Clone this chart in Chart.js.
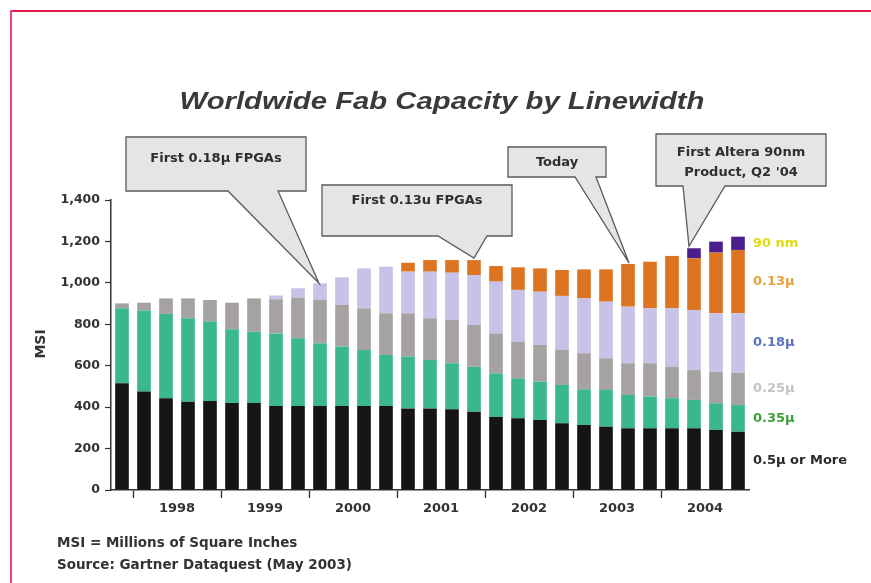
<!DOCTYPE html>
<html>
<head>
<meta charset="utf-8">
<script src="https://cdn.jsdelivr.net/npm/chart.js@4"></script>
<style>
  html, body { margin: 0; padding: 0; background: #fff; }
  canvas { display: block; }
</style>
</head>
<body>
<canvas id="fabChart" width="871" height="583"></canvas>
<script>
// Quarters from Q4 1997 to Q4 2004
const quarters = [
    'Q4 1997',
    'Q1 1998', 'Q2 1998', 'Q3 1998', 'Q4 1998',
    'Q1 1999', 'Q2 1999', 'Q3 1999', 'Q4 1999',
    'Q1 2000', 'Q2 2000', 'Q3 2000', 'Q4 2000',
    'Q1 2001', 'Q2 2001', 'Q3 2001', 'Q4 2001',
    'Q1 2002', 'Q2 2002', 'Q3 2002', 'Q4 2002',
    'Q1 2003', 'Q2 2003', 'Q3 2003', 'Q4 2003',
    'Q1 2004', 'Q2 2004', 'Q3 2004', 'Q4 2004'
];
const years = ['1998', '1999', '2000', '2001', '2002', '2003', '2004'];
const yTicks = [0, 200, 400, 600, 800, 1000, 1200, 1400];

// MSI per linewidth, bottom of the stack first
const msi05 = [515, 475, 443, 426, 430, 420, 420, 405, 405, 405, 405, 405, 405, 394, 394, 390, 378, 354, 346, 338, 322, 314, 306, 298, 298, 298, 298, 290, 281];
const msi035 = [363, 391, 407, 403, 383, 356, 344, 351, 327, 303, 287, 271, 247, 250, 234, 222, 217, 209, 193, 185, 185, 172, 177, 161, 153, 145, 137, 129, 129];
const msi025 = [23, 38, 75, 96, 104, 128, 161, 165, 197, 209, 201, 201, 201, 209, 201, 209, 202, 193, 177, 177, 169, 174, 153, 153, 161, 152, 144, 152, 156];
const msi018 = [0, 0, 0, 0, 0, 0, 0, 18, 45, 81, 134, 193, 225, 201, 225, 228, 241, 250, 250, 257, 261, 265, 273, 273, 265, 282, 290, 282, 287];
const msi013 = [0, 0, 0, 0, 0, 0, 0, 0, 0, 0, 0, 0, 0, 43, 56, 61, 72, 75, 109, 113, 125, 140, 156, 206, 225, 253, 250, 293, 306];
const msi90 = [0, 0, 0, 0, 0, 0, 0, 0, 0, 0, 0, 0, 0, 0, 0, 0, 0, 0, 0, 0, 0, 0, 0, 0, 0, 0, 48, 53, 64];

const seriesLabels = ['0.5\u03bc or More', '0.35\u03bc', '0.25\u03bc', '0.18\u03bc', '0.13\u03bc', '90 nm'];
const seriesData = [msi05, msi035, msi025, msi018, msi013, msi90];
const barColors = ['#151515', '#3ab78d', '#a7a2a2', '#c6c2e8', '#dc7421', '#4b1e8e'];
const labelColors = ['#2a2a2a', '#3f9f3a', '#c4c4c4', '#5b73bf', '#e6a23a', '#e2da10'];

// Callout boxes: text, target bar and box geometry
const callouts = [
    { lines: ['First 0.18\u03bc FPGAs'], bar: 9, box: [126, 137, 306, 191], base: [228, 278], textY: [162], tip: [-1, 0] },
    { lines: ['First 0.13u FPGAs'], bar: 16, box: [322, 185, 512, 236], base: [438, 487], textY: [204], tip: [0, -2] },
    { lines: ['Today'], bar: 23, box: [508, 147, 606, 177], base: [575, 596], textY: [166], tip: [1, -1] },
    { lines: ['First Altera 90nm', 'Product, Q2 \'04'], bar: 26, box: [656, 134, 826, 186], base: [683, 725], textY: [156, 176], tip: [-5, -2] }
];

const smallFont = '"DejaVu Sans", sans-serif';

const decorPlugin = {
    id: 'decor',
    beforeDraw(chart) {
        const ctx = chart.ctx;
        ctx.save();
        ctx.fillStyle = '#ffffff';
        ctx.fillRect(0, 0, chart.width, chart.height);
        // Page frame
        ctx.fillStyle = '#e8194f';
        ctx.fillRect(10, 10, chart.width - 10, 2);
        ctx.fillStyle = '#e4486f';
        ctx.fillRect(10, 10, 2, chart.height - 10);
        ctx.restore();
    },
    afterDraw(chart) {
        const ctx = chart.ctx;
        const xs = chart.scales.x;
        const ys = chart.scales.y;
        ctx.save();

        // Title, stretched like the scanned original
        ctx.save();
        ctx.translate(442, 109);
        ctx.scale(1.22, 1);
        ctx.font = 'italic bold 24px "Liberation Sans", Arial, sans-serif';
        ctx.fillStyle = '#3a3a3a';
        ctx.textAlign = 'center';
        ctx.textBaseline = 'alphabetic';
        ctx.fillText('Worldwide Fab Capacity by Linewidth', 0, 0);
        ctx.restore();

        // Y axis title
        ctx.save();
        ctx.translate(45, 344);
        ctx.rotate(-Math.PI / 2);
        ctx.font = 'bold 14px ' + smallFont;
        ctx.fillStyle = '#333';
        ctx.textAlign = 'center';
        ctx.textBaseline = 'alphabetic';
        ctx.fillText('MSI', 0, 0);
        ctx.restore();

        // Series labels next to the last bar
        const last = quarters.length - 1;
        let cum = 0;
        ctx.font = 'bold 13px ' + smallFont;
        ctx.textAlign = 'left';
        ctx.textBaseline = 'middle';
        seriesData.forEach((arr, i) => {
            const mid = cum + arr[last] / 2;
            cum += arr[last];
            ctx.fillStyle = labelColors[i];
            ctx.fillText(seriesLabels[i], 753, ys.getPixelForValue(mid));
        });

        // Callouts pointing at bar tops
        callouts.forEach(c => {
            const total = seriesData.reduce((s, arr) => s + arr[c.bar], 0);
            const tipX = xs.getPixelForValue(c.bar) + c.tip[0];
            const tipY = ys.getPixelForValue(total) + c.tip[1];
            const [l, t, r, b] = c.box;
            ctx.beginPath();
            ctx.moveTo(l, t);
            ctx.lineTo(r, t);
            ctx.lineTo(r, b);
            ctx.lineTo(c.base[1], b);
            ctx.lineTo(tipX, tipY);
            ctx.lineTo(c.base[0], b);
            ctx.lineTo(l, b);
            ctx.closePath();
            ctx.fillStyle = '#e5e5e5';
            ctx.fill();
            ctx.lineWidth = 1.3;
            ctx.strokeStyle = '#5a5a5a';
            ctx.stroke();
            ctx.fillStyle = '#2e2e2e';
            ctx.font = 'bold 13px ' + smallFont;
            ctx.textAlign = 'center';
            ctx.textBaseline = 'alphabetic';
            c.lines.forEach((line, j) => {
                ctx.fillText(line, (l + r) / 2, c.textY[j]);
            });
        });

        // Footnotes
        ctx.fillStyle = '#333';
        ctx.font = 'bold 13.5px ' + smallFont;
        ctx.textAlign = 'left';
        ctx.textBaseline = 'alphabetic';
        ctx.fillText('MSI = Millions of Square Inches', 57, 547);
        ctx.fillText('Source: Gartner Dataquest (May 2003)', 57, 569);
        ctx.restore();
    }
};

// Year label sits on the Q2 bar and is shifted half a bar right
const isQ2 = (i) => quarters[i] && quarters[i].startsWith('Q2') && years.includes(quarters[i].slice(3));
const isQ1 = (i) => quarters[i] && quarters[i].startsWith('Q1');

const ctx = document.getElementById('fabChart').getContext('2d');
new Chart(ctx, {
    type: 'bar',
    data: {
        labels: quarters,
        datasets: seriesData.map((arr, i) => ({
            label: seriesLabels[i],
            data: arr,
            backgroundColor: barColors[i],
            borderWidth: 0,
            barPercentage: 0.62,
            categoryPercentage: 1.0
        }))
    },
    options: {
        responsive: false,
        devicePixelRatio: 1,
        animation: false,
        layout: { padding: { left: 0, top: 200, right: 122, bottom: 0 } },
        plugins: {
            legend: { display: false },
            tooltip: { enabled: false }
        },
        scales: {
            x: {
                stacked: true,
                offset: true,
                afterFit: (scale) => { scale.height = 93; },
                ticks: {
                    autoSkip: false,
                    maxRotation: 0,
                    padding: 3,
                    labelOffset: 11,
                    color: '#333',
                    font: { family: smallFont, weight: 'bold', size: 13 },
                    callback: (v, i) => isQ2(i) ? quarters[i].slice(3) : ''
                },
                grid: {
                    offset: true,
                    drawOnChartArea: false,
                    tickLength: 8,
                    tickWidth: 1.3,
                    tickColor: (c) => isQ1(c.index) ? '#333' : 'rgba(0,0,0,0)'
                },
                border: { display: true, color: '#333', width: 1.5 }
            },
            y: {
                stacked: true,
                min: 0,
                max: 1400,
                afterBuildTicks: (axis) => { axis.ticks = yTicks.map(v => ({ value: v })); },
                afterFit: (scale) => { scale.width = 111; },
                ticks: {
                    padding: 5,
                    color: '#333',
                    font: { family: smallFont, weight: 'bold', size: 12.5 },
                    callback: (v) => Number(v).toLocaleString('en-US')
                },
                grid: {
                    drawOnChartArea: false,
                    tickLength: 6,
                    tickWidth: 1.2,
                    tickColor: '#333'
                },
                border: { display: true, color: '#333', width: 1.5 }
            }
        }
    },
    plugins: [decorPlugin]
});
</script>
</body>
</html>
